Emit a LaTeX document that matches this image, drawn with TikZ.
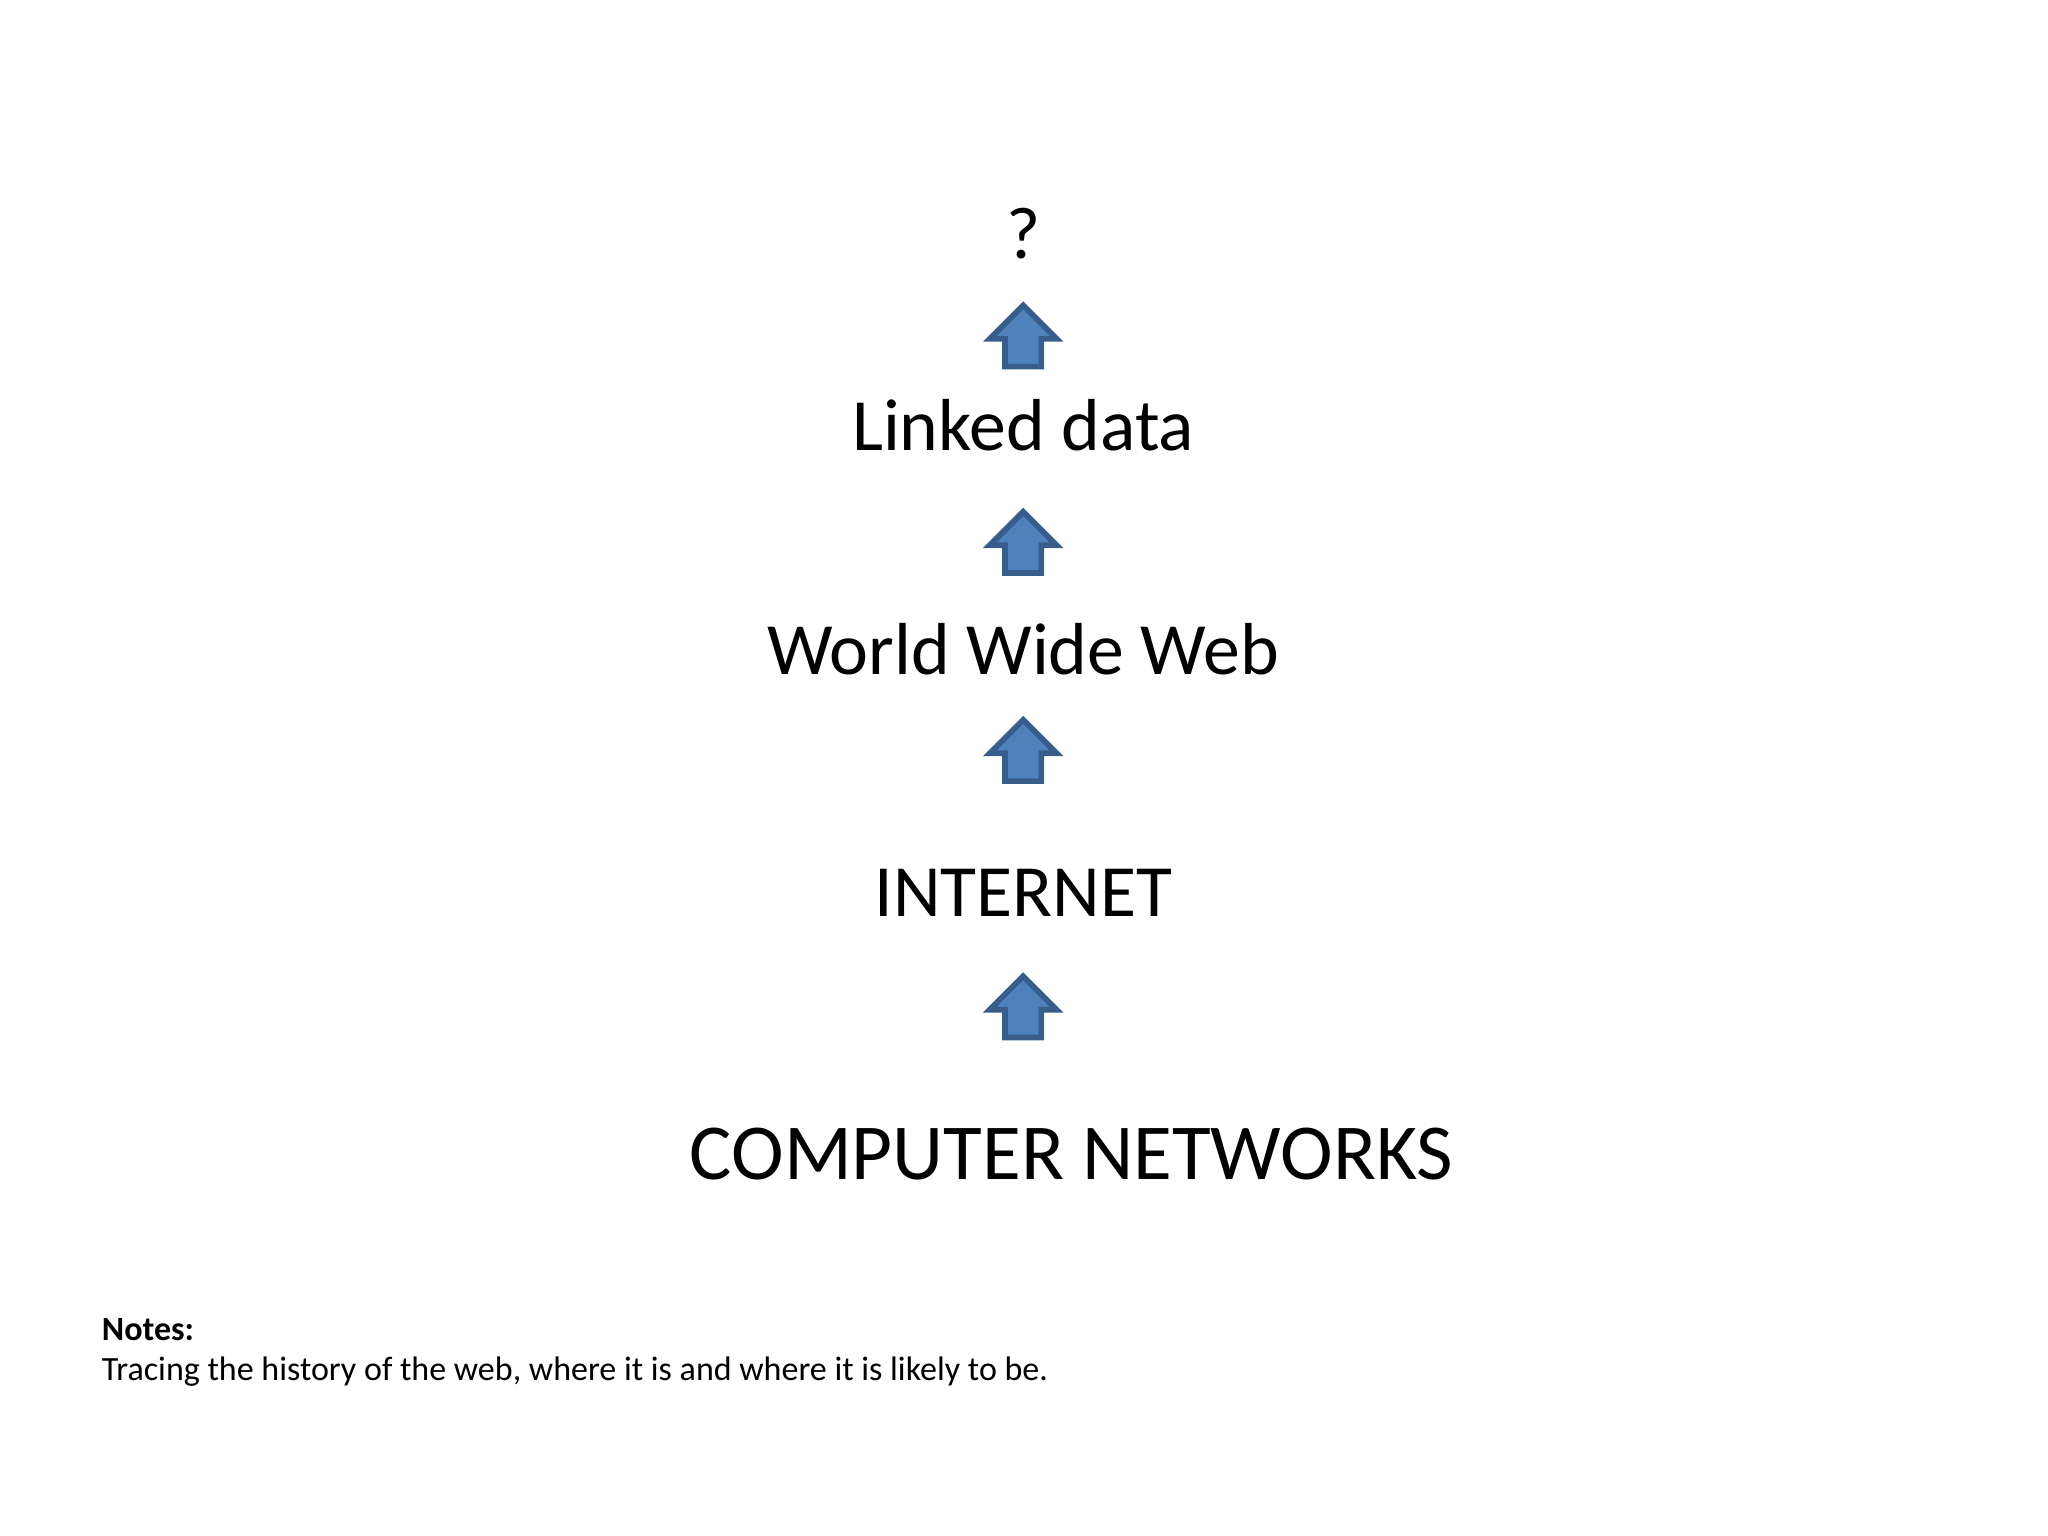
\documentclass[tikz,border=0pt]{standalone}
\usepackage{fontspec}
\setmainfont{Carlito}
\usetikzlibrary{shapes.arrows}
\usetikzlibrary{positioning}
\definecolor{arrowfill}{RGB}{79,129,189}
\definecolor{arrowline}{RGB}{56,93,138}
\tikzset{stage/.style={anchor=base,font=\fontsize{26}{32}\selectfont},
uparrow/.style={single arrow,shape border rotate=90,draw=arrowline,fill=arrowfill,line width=2pt,inner sep=0.19cm,minimum height=0.76cm,single arrow head extend=0.19cm},
note/.style={anchor=base west,font=\fontsize{12}{14}\selectfont}}

\begin{document}
\begin{tikzpicture}
\useasboundingbox (0,0) rectangle (25.4,-19.05);
\node (q) at (12.69,-3.21) [stage] {?};
\node (ld) at (12.69,-5.59) [stage] {Linked data};
\node (www) at (12.69,-8.36) [stage] {World Wide Web};
\node (inet) at (12.69,-11.37) [stage] {INTERNET};
\node (cn) at (13.29,-14.63) [stage,font=\fontsize{28}{34}\selectfont] {COMPUTER NETWORKS};
\foreach \y/\n in {-4.28/a1, -6.84/a2, -9.42/a3, -12.60/a4} {
\node (\n) at (12.69,\y) [uparrow] {};
}
\node (nt) at (1.14,-16.62) [note] {\textbf{Notes:}};
\node (nb) at (1.14,-17.12) [note] {Tracing the history of the web, where it is and where it is likely to be.};
\end{tikzpicture}
\end{document}
